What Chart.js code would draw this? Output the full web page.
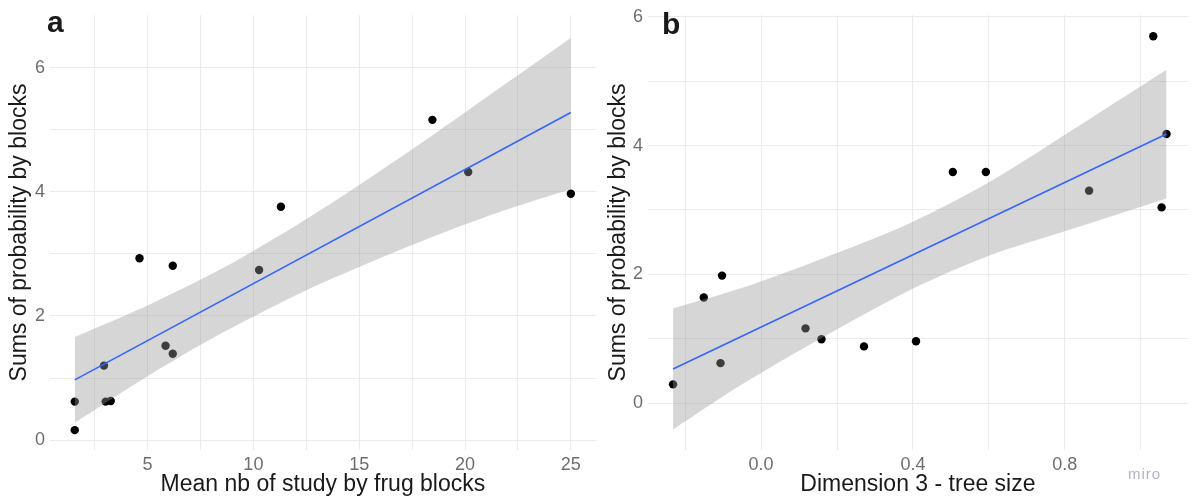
<!DOCTYPE html>
<html>
<head>
<meta charset="utf-8">
<script src="https://cdn.jsdelivr.net/npm/chart.js@4"></script>
<style>
  body { margin: 0; background: #fff; width: 1192px; height: 500px; overflow: hidden; position: relative;
         font-family: "Liberation Sans", Arial, sans-serif; }
  canvas { position: absolute; top: 0; }
  #chartA { left: 0; }
  #chartB { left: 600px; }
  .tag { position: absolute; font-weight: bold; font-size: 30px; line-height: 30px; color: #1a1a1a; }
  #miro { position: absolute; left: 1128px; top: 465px; font-size: 15px; letter-spacing: 1px; color: #b3b0c6; }
</style>
</head>
<body>
<canvas id="chartA" width="600" height="500"></canvas>
<canvas id="chartB" width="592" height="500"></canvas>
<div class="tag" style="left:47px; top:7px;">a</div>
<div class="tag" style="left:662px; top:9px;">b</div>
<div id="miro">miro</div>
<script>
// panel a: mean nb of study vs sums of probability
const aX = [1.56, 1.56, 2.94, 3.02, 3.26, 4.62, 6.19, 5.85, 6.19, 10.27, 11.3, 18.46, 20.15, 25.0];
const aY = [0.62, 0.16, 1.20, 0.62, 0.63, 2.93, 2.81, 1.52, 1.39, 2.74, 3.76, 5.16, 4.32, 3.97];
const aFitX = [1.56, 25.0];
const aFitY = [0.97, 5.28];
const aBandX = [1.56, 5, 8.6, 12.4, 15, 18.5, 21.5, 25.0];
const aBandHi = [1.66, 2.17, 2.78, 3.54, 4.11, 4.92, 5.64, 6.48];
const aBandLo = [0.28, 1.03, 1.74, 2.40, 2.79, 3.28, 3.66, 4.04];
const aXTicks = [2.5, 5, 7.5, 10, 12.5, 15, 17.5, 20, 22.5, 25];
const aXLabels = [5, 10, 15, 20, 25];
const aYTicks = [0, 1, 2, 3, 4, 5, 6];
const aYLabels = [0, 2, 4, 6];

// panel b: dimension 3 vs sums of probability
const bX = [-0.232, -0.151, -0.103, -0.107, 0.117, 0.159, 0.271, 0.408, 0.505, 0.592, 0.864, 1.033, 1.068, 1.055];
const bY = [0.29, 1.64, 1.98, 0.62, 1.16, 0.99, 0.88, 0.96, 3.59, 3.59, 3.30, 5.70, 4.18, 3.04];
const bFitX = [-0.232, 1.068];
const bFitY = [0.53, 4.18];
const bBandX = [-0.232, -0.05, 0.15, 0.39, 0.6, 0.8, 1.068];
const bBandHi = [1.47, 1.79, 2.22, 2.79, 3.43, 4.17, 5.18];
const bBandLo = [-0.41, 0.29, 0.98, 1.75, 2.29, 2.67, 3.18];
const bXTicks = [-0.2, 0, 0.2, 0.4, 0.6, 0.8, 1.0];
const bXLabels = [0, 0.4, 0.8];
const bYTicks = [0, 1, 2, 3, 4, 5, 6];
const bYLabels = [0, 2, 4, 6];

const pts = (xs, ys) => xs.map((x, i) => ({ x, y: ys[i] }));

function makePanel(id, p) {
  const grid = { color: "#ebebeb", lineWidth: 1, drawTicks: false };
  const tickFont = { family: "Liberation Sans", size: 18 };
  const titleFont = { family: "Liberation Sans", size: 23 };

  new Chart(document.getElementById(id), {
    type: "line",
    data: {
      datasets: [
        { data: pts(p.fitX, p.fitY), borderColor: "#3366ff", borderWidth: 1.6, pointRadius: 0, fill: false },
        { data: pts(p.bandX, p.bandHi), borderWidth: 0, pointRadius: 0, tension: 0.3,
          fill: "+1", backgroundColor: "rgba(153,153,153,0.4)" },
        { data: pts(p.bandX, p.bandLo), borderWidth: 0, pointRadius: 0, tension: 0.3, fill: false },
        { data: pts(p.x, p.y), showLine: false, pointRadius: 4.2, pointBackgroundColor: "#000",
          pointBorderWidth: 0 }
      ]
    },
    options: {
      responsive: false,
      animation: false,
      layout: { padding: { top: 15, right: p.padRight, left: 0, bottom: 0 } },
      plugins: { legend: { display: false }, tooltip: { enabled: false } },
      scales: {
        x: {
          type: "linear", min: p.xMin, max: p.xMax,
          grid, border: { display: false },
          afterBuildTicks: s => { s.ticks = p.xTicks.map(v => ({ value: v })); },
          afterFit: s => { s.height = 50; s.paddingLeft = 0; s.paddingRight = 0; },
          ticks: {
            autoSkip: false, maxRotation: 0, padding: 4, color: "#6e6e6e", font: tickFont,
            callback: v => p.xLabels.includes(v) ? p.fmtX(v) : ""
          },
          title: { display: true, text: p.xTitle, color: "#1a1a1a", font: titleFont,
                   padding: { top: 0, bottom: 2 } }
        },
        y: {
          type: "linear", min: p.yMin, max: p.yMax,
          grid, border: { display: false },
          afterBuildTicks: s => { s.ticks = p.yTicks.map(v => ({ value: v })); },
          afterFit: s => { s.width = p.yWidth; s.paddingTop = 0; s.paddingBottom = 0; },
          ticks: {
            autoSkip: false, padding: 5, color: "#6e6e6e", font: tickFont,
            callback: v => p.yLabels.includes(v) ? String(v) : ""
          },
          title: { display: true, text: "Sums of probability by blocks", color: "#1a1a1a", font: titleFont,
                   padding: { top: p.yTitlePad, bottom: 0 } }
        }
      }
    }
  });
}

makePanel("chartA", {
  x: aX, y: aY, fitX: aFitX, fitY: aFitY, bandX: aBandX, bandHi: aBandHi, bandLo: aBandLo,
  xTicks: aXTicks, xLabels: aXLabels, yTicks: aYTicks, yLabels: aYLabels,
  xMin: 0.39, xMax: 26.18, yMin: -0.16, yMax: 6.85,
  fmtX: v => String(v), xTitle: "Mean nb of study by frug blocks",
  yWidth: 50, padRight: 2, yTitlePad: 6
});

makePanel("chartB", {
  x: bX, y: bY, fitX: bFitX, fitY: bFitY, bandX: bBandX, bandHi: bBandHi, bandLo: bBandLo,
  xTicks: bXTicks, xLabels: bXLabels, yTicks: bYTicks, yLabels: bYLabels,
  xMin: -0.298, xMax: 1.124, yMin: -0.73, yMax: 6.03,
  fmtX: v => v.toFixed(1), xTitle: "Dimension 3 - tree size",
  yWidth: 48, padRight: 0, yTitlePad: 5
});
</script>
</body>
</html>
